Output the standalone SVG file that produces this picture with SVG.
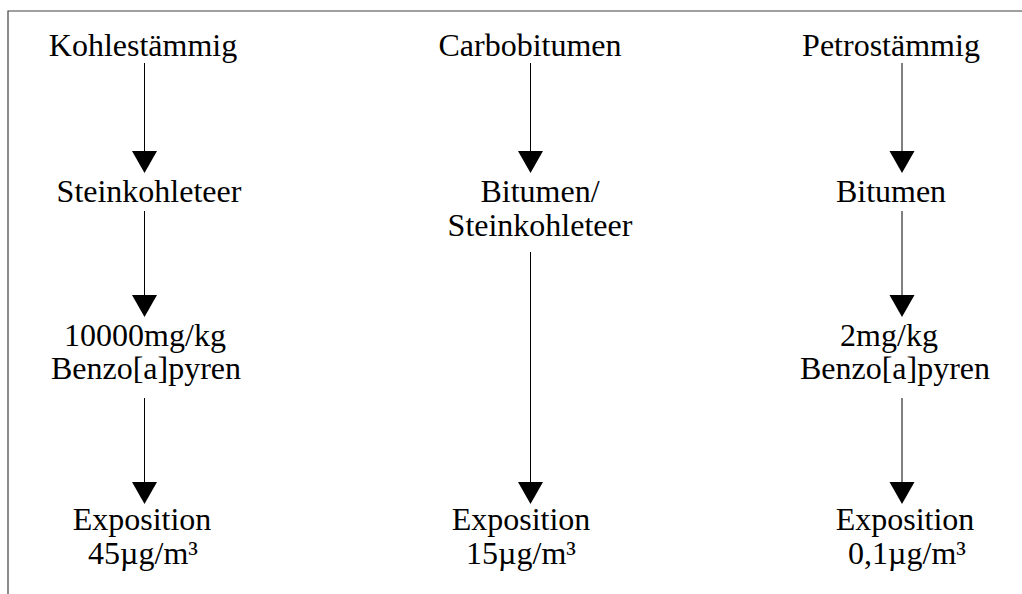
<svg xmlns="http://www.w3.org/2000/svg" width="1022" height="594" viewBox="0 0 1022 594">
  <style>
    .lbl { font-family: "Liberation Serif", "Times New Roman", serif; font-size: 32px; fill: #000; text-anchor: middle; }
    .frame { stroke: #404040; stroke-width: 1.2; fill: none; }
    .edge { stroke: #000; stroke-width: 1; fill: none; }
    .head { fill: #000; }
  </style>
  <defs>
    <!-- filled arrow head, tip at origin pointing down -->
    <path id="tip" class="head" d="M -12.5 -22 L 12.5 -22 L 0 0 Z"/>
  </defs>
  <rect width="1022" height="594" fill="#fff"/>
  <!-- page frame: top and left edges -->
  <path class="frame" d="M 8 594 L 8 11 L 1022 11"/>

  <!-- column 1: Kohlestämmig -->
  <g id="kohlestaemmig"><text class="lbl" x="143" y="56">Kohlestämmig</text></g>
  <g id="steinkohleteer"><text class="lbl" x="149" y="202">Steinkohleteer</text></g>
  <g id="bap-10000"><text class="lbl" x="145" y="346">10000mg/kg</text><text class="lbl" x="146" y="379">Benzo[a]pyren</text></g>
  <g id="expo-45"><text class="lbl" x="142" y="530">Exposition</text><text class="lbl" x="143" y="564">45µg/m³</text></g>

  <!-- column 2: Carbobitumen -->
  <g id="carbobitumen"><text class="lbl" x="530" y="56">Carbobitumen</text></g>
  <g id="bitumen-steinkohleteer"><text class="lbl" x="540" y="202">Bitumen/</text><text class="lbl" x="540" y="236">Steinkohleteer</text></g>
  <g id="expo-15"><text class="lbl" x="521" y="530">Exposition</text><text class="lbl" x="521" y="564">15µg/m³</text></g>

  <!-- column 3: Petrostämmig -->
  <g id="petrostaemmig"><text class="lbl" x="891" y="56">Petrostämmig</text></g>
  <g id="bitumen"><text class="lbl" x="891" y="202">Bitumen</text></g>
  <g id="bap-2"><text class="lbl" x="889" y="346">2mg/kg</text><text class="lbl" x="895" y="379">Benzo[a]pyren</text></g>
  <g id="expo-01"><text class="lbl" x="905" y="530">Exposition</text><text class="lbl" x="907" y="564">0,1µg/m³</text></g>

  <!-- connectors -->
  <g id="connectors">
    <line class="edge" x1="144.5" y1="63" x2="144.5" y2="152"/>
    <use href="#tip" x="144.5" y="173"/>
    <line class="edge" x1="144.5" y1="211" x2="144.5" y2="296"/>
    <use href="#tip" x="144.5" y="317"/>
    <line class="edge" x1="144.5" y1="398" x2="144.5" y2="484"/>
    <use href="#tip" x="144.5" y="504"/>

    <line class="edge" x1="530.5" y1="63" x2="530.5" y2="152"/>
    <use href="#tip" x="530.5" y="173"/>
    <line class="edge" x1="530.5" y1="252" x2="530.5" y2="484"/>
    <use href="#tip" x="530.5" y="504"/>

    <line class="edge" x1="902" y1="63" x2="902" y2="152"/>
    <use href="#tip" x="902" y="173"/>
    <line class="edge" x1="902" y1="211" x2="902" y2="296"/>
    <use href="#tip" x="902" y="317"/>
    <line class="edge" x1="902" y1="398" x2="902" y2="484"/>
    <use href="#tip" x="902" y="504"/>
  </g>
</svg>
